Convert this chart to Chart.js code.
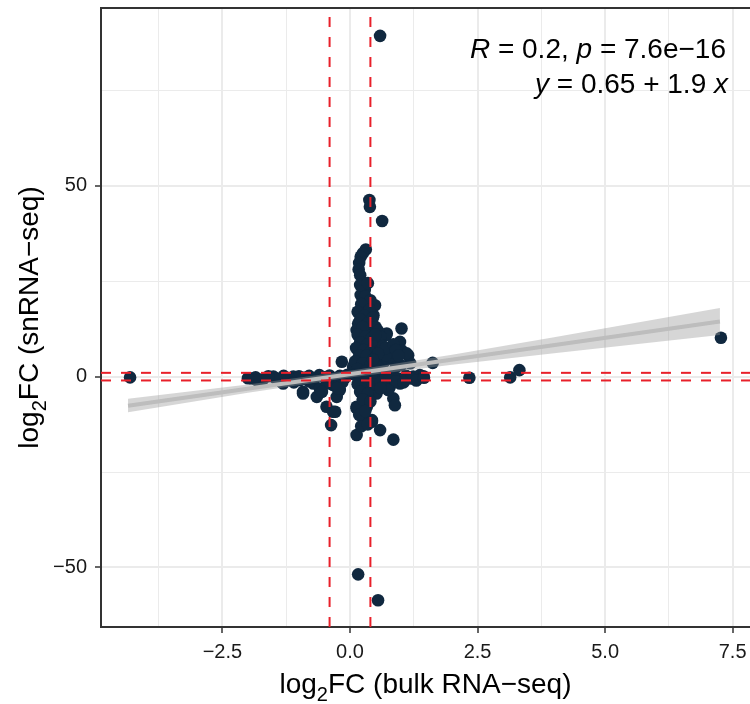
<!DOCTYPE html>
<html lang="en">
<head>
    <meta charset="UTF-8">
    <title>log2FC bulk vs snRNA-seq</title>
    <script src="https://cdn.jsdelivr.net/npm/chart.js"></script>
    <style>
        body { margin: 0; background: #fff; }
        #wrap { width: 750px; height: 704px; }
    </style>
</head>
<body>
    <div id="wrap"><canvas id="chart" width="750" height="704"></canvas></div>
    <script>
        // genes: bulk log2FC (x) vs snRNA log2FC (y)
        const pointX = [
            0.59, 0.38, 0.39, 0.63,
            0.31, 0.25, 0.21, 0.18, 0.17, 0.20, 0.29, 0.21, 0.26, 0.49, 0.33,
            0.23, 0.46, 0.16, 0.43, 0.13, 0.33, 0.72, 1.01, 0.59, 0.98, 1.01, 1.14, 0.78, 0.16, 0.26,
            -0.16, 1.62, 0.06, 0.65, 0.85, 1.18, 0.71, 1.11, 0.78,
            -4.31, -1.93, -1.83, -1.50, -1.34, -1.11, -0.98, -0.92, -0.65, -0.46, -0.33, -0.37, -0.26,
            -0.20, -0.72, -0.59, -0.33, -1.31, -0.92, -0.29,
            1.24, 1.41, 0.98, 0.78, 0.85, 0.88, 0.52, 0.13, 0.33, 0.26, 0.43, 0.13, 0.59, 0.85, 0.43,
            0.13, 1.37, 2.34, 3.14, 3.32, 7.27, 1.44, 0.16, 0.55,
            0.20, 0.35, 0.30, 0.40, 0.22, 0.38, 0.15, 0.28, 0.45, 0.20, 0.35, 0.25, 0.50, 0.15, 0.30,
            0.42, 0.55, 0.20, 0.35, 0.48, 0.12, 0.27, 0.40, 0.60, 0.18, 0.33, 0.50, 0.70, 0.10, 0.25,
            0.40, 0.55, 0.90, 1.00, 0.15, 0.30, 0.45, 0.65, 0.80, 0.10, 0.20, 0.35, 0.50, 0.70, 0.95,
            1.10, 0.15, 0.30, 0.45, 0.60, 0.20, 0.35, 0.25, 0.40, 0.18, 0.30, 0.22, 0.35,
            -0.05, -0.10, -0.20, -0.30, -0.40, -0.50, -0.60, -0.70, -0.80, -0.90, -1.00, -1.20, -1.30,
            -1.45, -1.60, -1.70, -1.85, -2.00, -0.15, -0.45, -0.80, -1.10, -0.25, -0.55,
            1.20, 1.30, 1.45, 0.90, 1.05, 0.75, 0.60,
            0.55, 0.60, 0.50, 0.65, 0.70, 0.85, 0.90, 0.95, 0.55, 0.45
        ];
        const pointY = [
            89.3, 46.3, 44.5, 40.8,
            33.3, 32.3, 31.4, 29.8, 28.1, 26.6, 22.7, 21.4, 20.5, 18.7, 18.3,
            16.6, 16.1, 13.9, 14.4, 12.2, 11.7, 11.3, 12.6, 8.7, 9.1, 6.9, 5.6, 6.1, 6.9, 4.3,
            3.9, 3.6, 2.6, 3.5, 4.3, 3.5, 10.9, 6.1, 5.2,
            -0.2, -0.5, -0.9, 0.0, -1.4, 0.0, -0.9, -4.0, -5.3, -7.9, -9.2, -12.7, -5.3,
            -3.5, -1.8, -3.1, -2.2, -1.8, -4.4, -9.2,
            0.0, 0.0, -1.8, -2.7, -5.7, -7.5, -4.4, -7.9, -7.9, -11.0, -11.4, -15.3, -14.0, -16.5, -11.8,
            -8.3, 0.4, -0.3, -0.2, 1.7, 10.2, 0.1, -51.8, -58.6,
            24.0, 24.5, 21.0, 20.0, 19.0, 17.5, 17.0, 16.0, 15.5, 15.0, 14.0, 13.0, 13.0, 11.0, 10.5,
            10.0, 9.5, 9.0, 8.5, 8.0, 7.5, 7.0, 6.5, 7.0, 5.5, 5.5, 5.0, 5.5, 4.0, 3.5,
            3.0, 2.5, 2.5, 3.0, 2.0, 1.5, 1.0, 1.5, 1.0, 0.5, -0.5, -0.5, -0.5, -0.3, -0.5,
            0.2, -2.0, -2.5, -2.0, -1.5, -4.0, -4.5, -6.0, -6.5, -10.0, -9.0, -13.0, -12.5,
            0.5, -0.3, 0.2, -0.5, 0.3, -0.2, 0.4, -0.4, 0.2, -0.3, 0.1, -0.4, 0.2,
            -0.5, 0.1, -0.6, -0.2, -0.4, -1.5, -1.8, -1.2, -1.5, -3.0, -4.0,
            -0.5, -1.0, -0.3, -1.2, -1.5, -3.5, -3.0,
            12.0, 10.5, 11.0, 8.0, 7.5, 8.5, 7.0, 5.5, 6.0, 4.5
        ];

        // fitted line y = 0.65 + 1.9x and its confidence band
        const fitX = [-4.35, 7.25];
        const fitY = [-7.62, 14.43];
        const bandX = [-4.35, -2, 0, 2, 4, 6, 7.25];
        const bandUpper = [-5.8, -2.05, 1.55, 5.75, 10.35, 15.05, 18.0];
        const bandLower = [-9.3, -4.25, -0.25, 3.15, 6.15, 9.05, 10.9];

        // thresholds
        const vlineX = [-0.4, 0.4];
        const hlineY = [-1, 1];

        const xMajor = [-2.5, 0, 2.5, 5, 7.5];
        const xMinor = [-3.75, -1.25, 1.25, 3.75, 6.25];
        const yMajor = [-50, 0, 50];
        const yMinor = [-25, 25, 75];
        const xMin = -4.88, xMax = 7.84, yMin = -65.6, yMax = 96.6;

        const FONT = "'Liberation Sans', Arial, Helvetica, sans-serif";
        const navy = '#10283f';
        const red = '#e8202a';

        const toXY = (xs, ys) => xs.map((x, i) => ({ x: x, y: ys[i] }));

        const datasets = [];
        vlineX.forEach(v => datasets.push({
            type: 'line', data: [{ x: v, y: yMin }, { x: v, y: yMax }],
            borderColor: red, borderWidth: 2, borderDash: [10, 10], pointRadius: 0, order: 0
        }));
        hlineY.forEach(v => datasets.push({
            type: 'line', data: [{ x: xMin, y: v }, { x: xMax, y: v }],
            borderColor: red, borderWidth: 2, borderDash: [10, 10], pointRadius: 0, order: 0
        }));
        datasets.push({
            type: 'line', data: toXY(fitX, fitY), borderColor: '#bdbdbd', borderWidth: 4,
            pointRadius: 0, order: 1
        });
        datasets.push({
            type: 'line', data: toXY(bandX, bandUpper), borderWidth: 0, pointRadius: 0,
            fill: '+1', backgroundColor: 'rgba(153,153,153,0.4)', order: 2
        });
        datasets.push({
            type: 'line', data: toXY(bandX, bandLower), borderWidth: 0, pointRadius: 0,
            fill: false, order: 2
        });
        datasets.push({
            type: 'scatter', data: toXY(pointX, pointY), backgroundColor: navy,
            borderWidth: 0, pointRadius: 6.3, order: 3
        });

        function richWidth(ctx, parts, size) {
            let w = 0;
            parts.forEach(p => {
                ctx.font = (p.it ? 'italic ' : '') + Math.round(size * (p.sub ? 0.7 : 1)) + 'px ' + FONT;
                w += ctx.measureText(p.t).width;
            });
            return w;
        }
        function richDraw(ctx, parts, x, y, size) {
            parts.forEach(p => {
                ctx.font = (p.it ? 'italic ' : '') + Math.round(size * (p.sub ? 0.7 : 1)) + 'px ' + FONT;
                ctx.fillText(p.t, x, y + (p.sub ? size * 0.28 : 0));
                x += ctx.measureText(p.t).width;
            });
        }

        const textPlugin = {
            id: 'texts',
            afterDraw(chart) {
                const ctx = chart.ctx, a = chart.chartArea;
                ctx.save();
                // top frame line
                ctx.strokeStyle = '#333';
                ctx.lineWidth = 2;
                ctx.beginPath();
                ctx.moveTo(a.left, a.top);
                ctx.lineTo(a.right, a.top);
                ctx.stroke();

                ctx.fillStyle = '#000';
                ctx.textBaseline = 'alphabetic';
                const ts = 28;
                const xt = [{ t: 'log' }, { t: '2', sub: true }, { t: 'FC (bulk RNA\u2212seq)' }];
                const xw = richWidth(ctx, xt, ts);
                richDraw(ctx, xt, (a.left + a.right) / 2 - xw / 2, 693, ts);

                const yt = [{ t: 'log' }, { t: '2', sub: true }, { t: 'FC (snRNA\u2212seq)' }];
                const yw = richWidth(ctx, yt, ts);
                ctx.save();
                ctx.translate(38, (a.top + a.bottom) / 2);
                ctx.rotate(-Math.PI / 2);
                richDraw(ctx, yt, -yw / 2, 0, ts);
                ctx.restore();

                const as = 28;
                const l1 = [{ t: 'R', it: true }, { t: ' = 0.2, ' }, { t: 'p', it: true }, { t: ' = 7.6e\u221216' }];
                const l2 = [{ t: 'y', it: true }, { t: ' = 0.65 + 1.9 ' }, { t: 'x', it: true }];
                richDraw(ctx, l1, 726 - richWidth(ctx, l1, as), 58, as);
                richDraw(ctx, l2, 728 - richWidth(ctx, l2, as), 93, as);
                ctx.restore();
            }
        };

        function gridOpts(major) {
            return {
                color: '#ebebeb',
                lineWidth: c => major.includes(c.tick.value) ? 2 : 1,
                tickColor: c => major.includes(c.tick.value) ? '#333' : 'rgba(0,0,0,0)',
                tickLength: 6,
                tickWidth: 1.5
            };
        }

        // drop the label half-size padding Chart.js adds at the scale ends
        const noPad = s => { s.paddingTop = 0; s.paddingBottom = 0; s.paddingLeft = 0; s.paddingRight = 0; };

        new Chart(document.getElementById('chart').getContext('2d'), {
            type: 'scatter',
            data: { datasets: datasets },
            plugins: [textPlugin],
            options: {
                responsive: false,
                devicePixelRatio: 1,
                animation: false,
                layout: { autoPadding: false, padding: { top: 8, right: 0, left: 0, bottom: 0 } },
                plugins: { legend: { display: false }, tooltip: { enabled: false } },
                scales: {
                    x: {
                        type: 'linear', min: xMin, max: xMax,
                        afterBuildTicks: s => { s.ticks = xMajor.concat(xMinor).sort((p, q) => p - q).map(v => ({ value: v })); },
                        afterFit: s => { s.height = 77; noPad(s); },
                        grid: gridOpts(xMajor),
                        border: { display: true, color: '#333', width: 2 },
                        ticks: {
                            autoSkip: false, maxRotation: 0, padding: 7, color: '#1a1a1a',
                            font: { family: FONT, size: 20 },
                            callback: v => xMajor.includes(v) ? v.toFixed(1).replace('-', '\u2212') : ''
                        }
                    },
                    y: {
                        type: 'linear', min: yMin, max: yMax,
                        afterBuildTicks: s => { s.ticks = yMajor.concat(yMinor).sort((p, q) => p - q).map(v => ({ value: v })); },
                        afterFit: s => { s.width = 101; noPad(s); },
                        grid: gridOpts(yMajor),
                        border: { display: true, color: '#333', width: 2 },
                        ticks: {
                            autoSkip: false, padding: 8, color: '#1a1a1a',
                            font: { family: FONT, size: 20 },
                            callback: v => yMajor.includes(v) ? String(v).replace('-', '\u2212') : ''
                        }
                    }
                }
            }
        });
    </script>
</body>
</html>
